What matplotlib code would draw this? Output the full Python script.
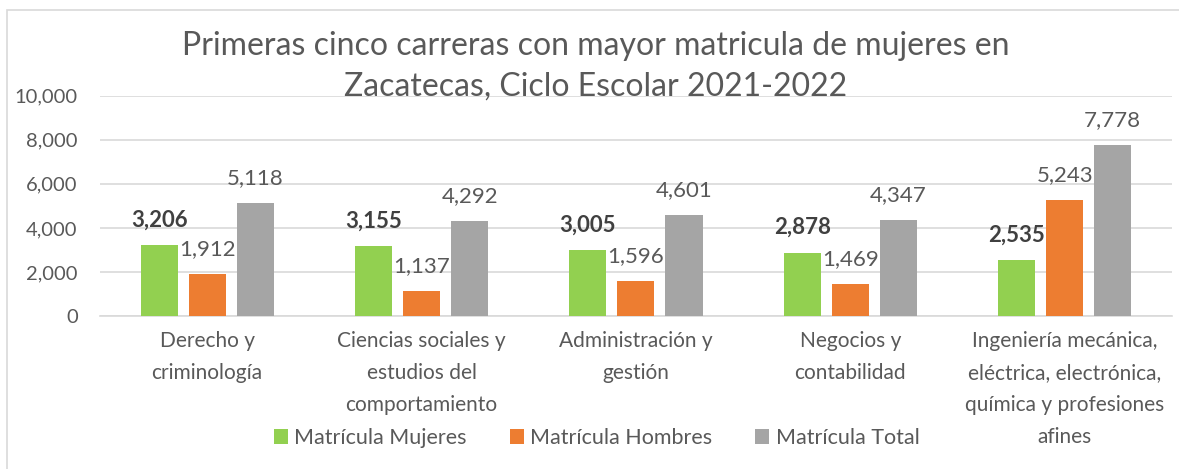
import matplotlib
matplotlib.use('Agg')
import matplotlib.pyplot as plt
import numpy as np
from matplotlib.patches import Rectangle

plt.rcParams['font.family'] = ['Lato', 'DejaVu Sans']

categorias = ['Derecho y\ncriminología',
              'Ciencias sociales y\nestudios del\ncomportamiento',
              'Administración y\ngestión',
              'Negocios y\ncontabilidad',
              'Ingeniería mecánica,\neléctrica, electrónica,\nquímica y profesiones\nafines']
mujeres = [3206, 3155, 3005, 2878, 2535]
hombres = [1912, 1137, 1596, 1469, 5243]
total = [5118, 4292, 4601, 4347, 7778]

series = ['Matrícula Mujeres', 'Matrícula Hombres', 'Matrícula Total']
colores = ['#92d050', '#ed7d31', '#a5a5a5']
texto = '#595959'

fig = plt.figure(figsize=(11.79, 4.69), dpi=100)
ax = fig.add_axes([0.0848, 0.3262, 0.9092, 0.4698])

# marco del grafico
fig.patches.append(Rectangle((7 / 1179, -0.1), 1.1, 1 - 10 / 469 + 0.1,
                             transform=fig.transFigure, fill=False,
                             edgecolor='#d9d9d9', linewidth=1.2))

x = np.arange(len(categorias))
ancho = 0.173
paso = 0.224

for i, (vals, col, nom) in enumerate(zip([mujeres, hombres, total], colores, series)):
    barras = ax.bar(x + (i - 1) * paso, vals, width=ancho, color=col, label=nom, zorder=3)
    for b, v in zip(barras, vals):
        ax.annotate(f'{v:,}', (b.get_x() + b.get_width() / 2, v),
                    xytext=(0, 18), textcoords='offset points',
                    ha='center', va='center', fontsize=16,
                    color='#404040' if i == 0 else texto,
                    fontweight='bold' if i == 0 else 'normal')

ax.set_xlim(-0.5, len(categorias) - 0.5)
ax.set_ylim(0, 10000)
ax.set_yticks(np.arange(0, 10001, 2000))
ax.yaxis.set_major_formatter(matplotlib.ticker.FuncFormatter(lambda v, p: f'{int(v):,}'))
ax.set_xticks(x)
ax.set_xticklabels(categorias, linespacing=1.75)
ax.tick_params(axis='y', length=0, pad=16, labelsize=14.5, labelcolor=texto)
ax.tick_params(axis='x', length=0, pad=11, labelsize=15, labelcolor=texto)
ax.grid(axis='y', color='#d9d9d9', linewidth=1.2, zorder=0)
for s in ['top', 'right', 'left']:
    ax.spines[s].set_visible(False)
ax.spines['bottom'].set_color('#d9d9d9')
ax.spines['bottom'].set_linewidth(1.2)

fig.text(0.505, 1 - 66 / 469,
         'Primeras cinco carreras con mayor matricula de mujeres en\nZacatecas, Ciclo Escolar 2021-2022',
         ha='center', va='center', fontsize=23, color=texto, linespacing=1.45)

fig.legend(loc='center', bbox_to_anchor=(0.506, 0.066), ncol=3, frameon=False,
           fontsize=15.5, labelcolor=texto, handlelength=0.65, handleheight=0.65,
           handletextpad=0.3, columnspacing=2.0)

fig.savefig('out.png', dpi=100)
